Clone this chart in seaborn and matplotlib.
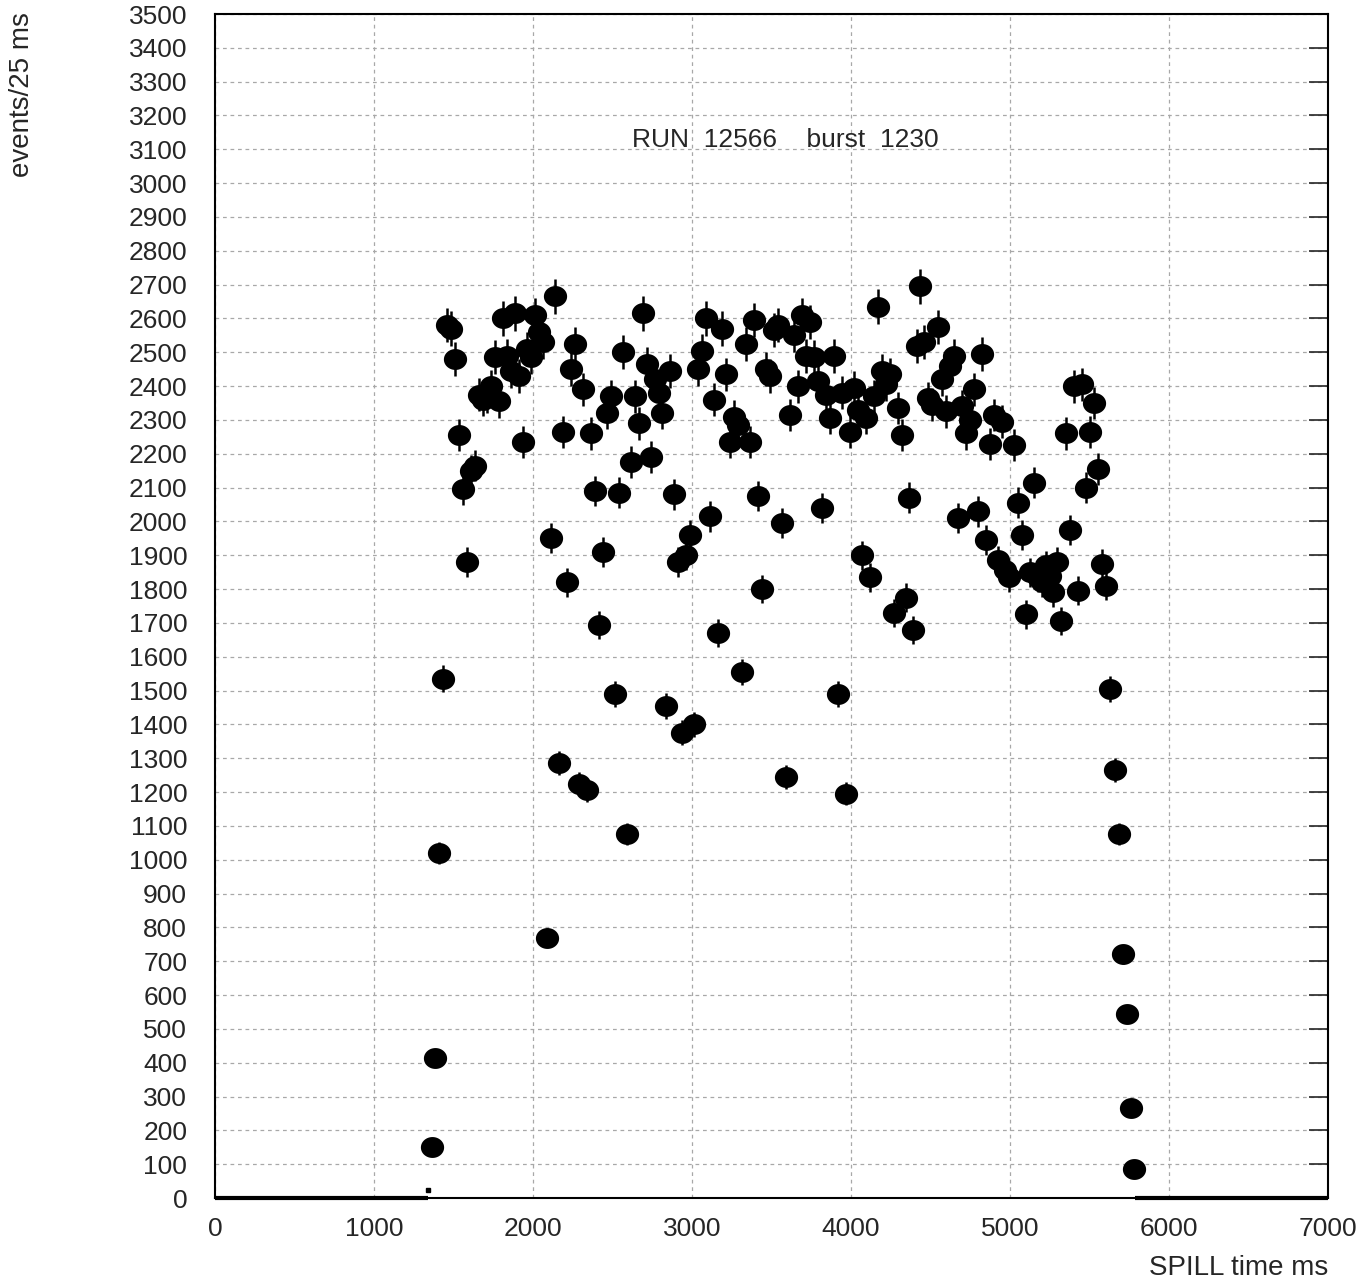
#Importing the Dependencies
import numpy as np
import pandas as pd
import matplotlib
matplotlib.use("Agg")
import matplotlib.pyplot as plt
from matplotlib.path import Path
from matplotlib.ticker import MultipleLocator
import seaborn as sns

#Data: bin centre (ms) and events per 25 ms bin
spill_time = [1365, 1384, 1409, 1434, 1459, 1484, 1509, 1535, 1560, 1585,
              1610, 1635, 1660, 1685, 1711, 1736, 1761, 1786, 1811, 1836,
              1862, 1887, 1912, 1937, 1962, 1987, 2012, 2038, 2063, 2088,
              2113, 2138, 2163, 2189, 2214, 2239, 2264, 2289, 2314, 2339,
              2365, 2390, 2415, 2440, 2465, 2490, 2516, 2541, 2566, 2591,
              2616, 2641, 2667, 2692, 2717, 2742, 2767, 2792, 2811, 2836,
              2862, 2887, 2912, 2937, 2962, 2987, 3012, 3038, 3063, 3088,
              3113, 3138, 3163, 3189, 3214, 3239, 3264, 3289, 3314, 3339,
              3365, 3390, 3415, 3440, 3465, 3490, 3516, 3541, 3566, 3591,
              3616, 3641, 3667, 3692, 3717, 3742, 3767, 3792, 3817, 3843,
              3868, 3893, 3918, 3943, 3968, 3994, 4019, 4044, 4069, 4094,
              4119, 4144, 4170, 4195, 4220, 4245, 4270, 4295, 4321, 4346,
              4365, 4390, 4415, 4434, 4459, 4484, 4509, 4547, 4572, 4597,
              4622, 4648, 4673, 4698, 4723, 4748, 4773, 4799, 4824, 4849,
              4874, 4899, 4924, 4950, 4968, 4994, 5025, 5050, 5075, 5100,
              5126, 5151, 5176, 5201, 5226, 5251, 5270, 5295, 5320, 5352,
              5377, 5402, 5427, 5453, 5478, 5503, 5528, 5553, 5578, 5604,
              5629, 5660, 5685, 5711, 5736, 5761, 5780]
events = [150, 415, 1020, 1535, 2580, 2570, 2480, 2255, 2095, 1880,
          2150, 2165, 2375, 2360, 2370, 2400, 2485, 2355, 2600, 2490,
          2445, 2615, 2430, 2235, 2510, 2485, 2610, 2560, 2530, 770,
          1950, 2665, 1285, 2265, 1820, 2450, 2525, 1225, 2390, 1205,
          2260, 2090, 1695, 1910, 2320, 2370, 1490, 2085, 2500, 1075,
          2175, 2370, 2290, 2615, 2465, 2190, 2420, 2380, 2320, 1455,
          2445, 2080, 1880, 1375, 1900, 1960, 1400, 2450, 2505, 2600,
          2015, 2360, 1670, 2570, 2435, 2235, 2310, 2285, 1555, 2525,
          2235, 2595, 2075, 1800, 2450, 2430, 2565, 2580, 1995, 1245,
          2315, 2550, 2400, 2610, 2490, 2590, 2485, 2415, 2040, 2375,
          2305, 2490, 1490, 2380, 1195, 2265, 2395, 2330, 1900, 2305,
          1835, 2370, 2635, 2445, 2405, 2435, 1730, 2335, 2255, 1775,
          2070, 1680, 2520, 2695, 2530, 2365, 2345, 2575, 2420, 2325,
          2460, 2490, 2010, 2340, 2260, 2300, 2390, 2030, 2495, 1945,
          2230, 2315, 1885, 2295, 1855, 1835, 2225, 2055, 1960, 1725,
          1850, 2115, 1835, 1820, 1870, 1840, 1790, 1880, 1705, 2260,
          1975, 2400, 1795, 2405, 2100, 2265, 2350, 2155, 1875, 1810,
          1505, 1265, 1075, 720, 545, 265, 85]

#Empty bins at both ends of the spill and one tiny bin before the start
empty_start = [0, 5787]
empty_end = [1337, 7000]
tiny_time = [1340]
tiny_events = [25]

x_ticks = [0, 1000, 2000, 3000, 4000, 5000, 6000, 7000]
run_label = "RUN  12566    burst  1230"

df = pd.DataFrame({"time": spill_time, "events": events})
df["err"] = np.sqrt(df["events"])

#Style
sns.set_style("white")
plt.rcParams["font.family"] = ["Liberation Sans", "DejaVu Sans"]

fig = plt.figure(figsize=(13.69, 12.85), dpi=100)
ax = fig.add_axes([215 / 1369, 87 / 1285, 1113 / 1369, 1184 / 1285])

#Nearly round marker, a touch wider than tall
t = np.linspace(0, 2 * np.pi, 60)
blob = Path(np.column_stack([np.cos(t), 0.9 * np.sin(t)]), closed=True)

#Error bars then points
ax.errorbar(df["time"], df["events"], yerr=df["err"], fmt="none",
            ecolor="black", elinewidth=1.8, zorder=3)
sns.scatterplot(data=df, x="time", y="events", ax=ax, marker=blob,
                s=280, color="black", edgecolor="black", linewidth=0, zorder=4)
ax.hlines([0, 0], empty_start, empty_end, colors="black", linewidth=3,
          clip_on=False, zorder=5)
ax.plot(tiny_time, tiny_events, "s", color="black", markersize=3, zorder=5)

#Axes
ax.set_xlim(0, 7000)
ax.set_ylim(0, 3500)
ax.set_xticks(x_ticks)
ax.xaxis.set_minor_locator(MultipleLocator(250))
ax.yaxis.set_major_locator(MultipleLocator(100))
ax.tick_params(axis="both", which="major", direction="in", length=14,
               width=1.2, labelsize=19, top=False, right=True)
ax.tick_params(axis="both", which="minor", direction="in", length=9,
               width=1.2, top=False, right=False)
ax.tick_params(axis="x", pad=14)
ax.tick_params(axis="y", pad=20)
ax.grid(True, which="major", color="#a8a8a8", linestyle=(0, (3, 3)),
        linewidth=0.9)
for side in ax.spines.values():
    side.set_color("black")
    side.set_linewidth(1.5)
ax.set_xlabel("")
ax.set_ylabel("")

ax.text(0.512, 0.8936, run_label, transform=ax.transAxes, ha="center",
        va="center", fontsize=19)
fig.text(22 / 1369, 1 - 12 / 1285, "events/25 ms", rotation=90, ha="center",
         va="top", fontsize=20)
fig.text(1328 / 1369, 1 - 1268 / 1285, "SPILL time ms", ha="right",
         va="center", fontsize=20)

plt.savefig("out.png", dpi=100)
